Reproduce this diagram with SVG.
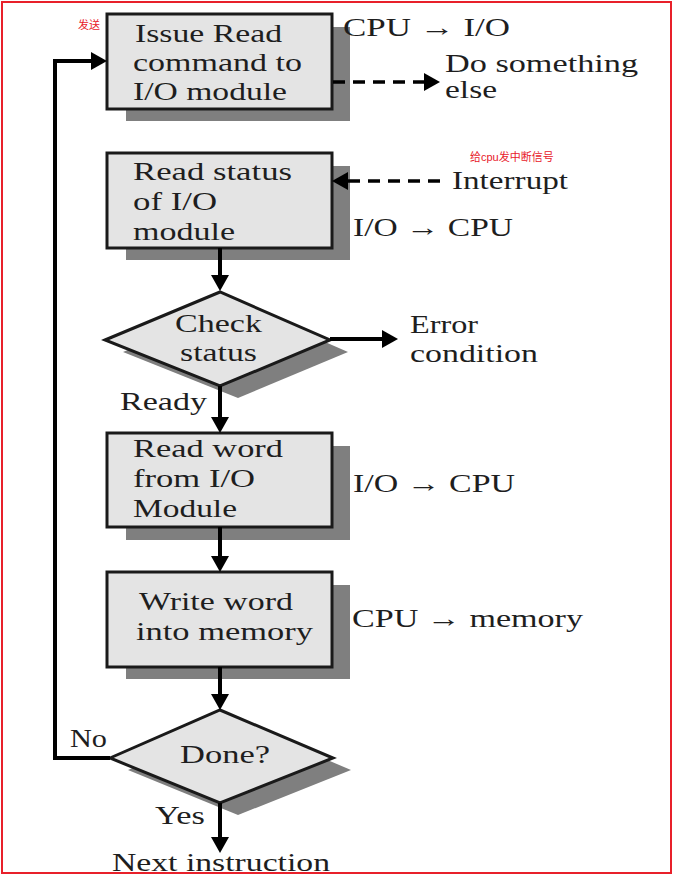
<svg xmlns="http://www.w3.org/2000/svg" width="676" height="875" viewBox="0 0 676 875">
<defs>
<style>
.box{fill:#e4e4e4;stroke:#1a1a1a;stroke-width:3}
.sh{fill:#7f7f7f}
.t{font-family:"Liberation Serif","Times New Roman",serif;font-size:25px;fill:#1e1e1e}
.r{font-family:"Liberation Sans","Noto Sans CJK SC",sans-serif;font-size:11px;fill:#e8202a}
.ln{fill:none;stroke:#000;stroke-width:4}
.dash{fill:none;stroke:#000;stroke-width:3.5;stroke-dasharray:12 8}
</style>
<marker id="ah" viewBox="0 0 16 18" markerWidth="16" markerHeight="18" refX="8" refY="9" orient="auto" markerUnits="userSpaceOnUse">
<path d="M0,0 L16,9 L0,18 z" fill="#000"/>
</marker>
</defs>
<rect x="2" y="2" width="669" height="871" fill="#fff" stroke="#e8202a" stroke-width="2"/>

<g id="issue">
<rect class="sh" x="126" y="27" width="224" height="94"/>
<rect class="box" x="107" y="14" width="225" height="95"/>
<text class="t" x="135" y="42" textLength="147" lengthAdjust="spacingAndGlyphs">Issue Read</text>
<text class="t" x="133" y="71" textLength="169" lengthAdjust="spacingAndGlyphs">command to</text>
<text class="t" x="133" y="100" textLength="154" lengthAdjust="spacingAndGlyphs">I/O module</text>
</g>

<g id="readstatus">
<rect class="sh" x="126" y="166" width="224" height="94"/>
<rect class="box" x="107" y="153" width="225" height="95"/>
<text class="t" x="133" y="180" textLength="159" lengthAdjust="spacingAndGlyphs">Read status</text>
<text class="t" x="133" y="210" textLength="84" lengthAdjust="spacingAndGlyphs">of I/O</text>
<text class="t" x="133" y="240" textLength="102" lengthAdjust="spacingAndGlyphs">module</text>
</g>

<g id="check">
<polygon class="sh" points="123,352 238,304 348,352 238,398"/>
<polygon class="box" points="105,340 220,292 330,340 220,386"/>
<text class="t" x="175" y="332" textLength="87" lengthAdjust="spacingAndGlyphs">Check</text>
<text class="t" x="180" y="361" textLength="77" lengthAdjust="spacingAndGlyphs">status</text>
</g>

<g id="readword">
<rect class="sh" x="126" y="446" width="224" height="94"/>
<rect class="box" x="107" y="433" width="225" height="94"/>
<text class="t" x="133" y="457" textLength="150" lengthAdjust="spacingAndGlyphs">Read word</text>
<text class="t" x="133" y="487" textLength="122" lengthAdjust="spacingAndGlyphs">from I/O</text>
<text class="t" x="133" y="517" textLength="104" lengthAdjust="spacingAndGlyphs">Module</text>
</g>

<g id="writeword">
<rect class="sh" x="126" y="585" width="224" height="94"/>
<rect class="box" x="107" y="572" width="225" height="95"/>
<text class="t" x="139" y="610" textLength="154" lengthAdjust="spacingAndGlyphs">Write word</text>
<text class="t" x="136" y="640" textLength="177" lengthAdjust="spacingAndGlyphs">into memory</text>
</g>

<g id="done">
<polygon class="sh" points="128,770 238,722 351,770 238,815"/>
<polygon class="box" points="110,758 220,710 333,758 220,803"/>
<text class="t" x="180" y="763" textLength="90" lengthAdjust="spacingAndGlyphs">Done?</text>
</g>

<g id="connectors">
<line class="ln" x1="220" y1="248" x2="220" y2="283" marker-end="url(#ah)"/>
<line class="ln" x1="220" y1="386" x2="220" y2="425" marker-end="url(#ah)"/>
<line class="ln" x1="220" y1="527" x2="220" y2="564" marker-end="url(#ah)"/>
<line class="ln" x1="220" y1="667" x2="220" y2="702" marker-end="url(#ah)"/>
<line class="ln" x1="220" y1="803" x2="220" y2="845" marker-end="url(#ah)"/>
<polyline class="ln" points="110,758 55,758 55,61 99,61" marker-end="url(#ah)"/>
<line class="ln" x1="330" y1="339" x2="390" y2="339" marker-end="url(#ah)"/>
<line class="dash" x1="333" y1="82" x2="432" y2="82" marker-end="url(#ah)"/>
<line class="dash" x1="440" y1="181" x2="340" y2="181" marker-end="url(#ah)"/>
</g>

<g id="labels">
<text class="t" x="343" y="36" textLength="167" lengthAdjust="spacingAndGlyphs">CPU → I/O</text>
<text class="t" x="445" y="72" textLength="193" lengthAdjust="spacingAndGlyphs">Do something</text>
<text class="t" x="445" y="98" textLength="52" lengthAdjust="spacingAndGlyphs">else</text>
<text class="t" x="452" y="189" textLength="116" lengthAdjust="spacingAndGlyphs">Interrupt</text>
<text class="t" x="353" y="236" textLength="160" lengthAdjust="spacingAndGlyphs">I/O → CPU</text>
<text class="t" x="410" y="333" textLength="68" lengthAdjust="spacingAndGlyphs">Error</text>
<text class="t" x="410" y="362" textLength="128" lengthAdjust="spacingAndGlyphs">condition</text>
<text class="t" x="120" y="410" textLength="87" lengthAdjust="spacingAndGlyphs">Ready</text>
<text class="t" x="353" y="492" textLength="162" lengthAdjust="spacingAndGlyphs">I/O → CPU</text>
<text class="t" x="352" y="627" textLength="231" lengthAdjust="spacingAndGlyphs">CPU → memory</text>
<text class="t" x="70" y="747" textLength="37" lengthAdjust="spacingAndGlyphs">No</text>
<text class="t" x="155" y="824" textLength="50" lengthAdjust="spacingAndGlyphs">Yes</text>
<text class="t" x="112" y="871" textLength="218" lengthAdjust="spacingAndGlyphs">Next instruction</text>
<text class="r" x="78" y="29">发送</text>
<text class="r" x="470" y="161">给cpu发中断信号</text>
</g>
</svg>
